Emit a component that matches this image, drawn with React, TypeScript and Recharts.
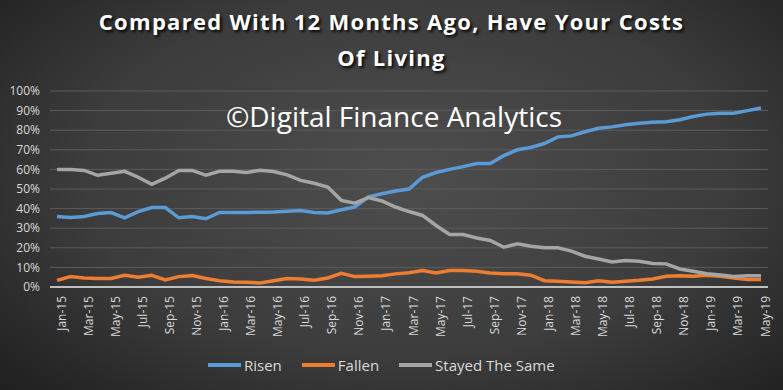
import { CartesianGrid, Line, LineChart, XAxis, YAxis } from "recharts";

const months = [
  "Jan-15", "Feb-15", "Mar-15", "Apr-15", "May-15", "Jun-15", "Jul-15", "Aug-15", "Sep-15", "Oct-15", "Nov-15", "Dec-15",
  "Jan-16", "Feb-16", "Mar-16", "Apr-16", "May-16", "Jun-16", "Jul-16", "Aug-16", "Sep-16", "Oct-16", "Nov-16", "Dec-16",
  "Jan-17", "Feb-17", "Mar-17", "Apr-17", "May-17", "Jun-17", "Jul-17", "Aug-17", "Sep-17", "Oct-17", "Nov-17", "Dec-17",
  "Jan-18", "Feb-18", "Mar-18", "Apr-18", "May-18", "Jun-18", "Jul-18", "Aug-18", "Sep-18", "Oct-18", "Nov-18", "Dec-18",
  "Jan-19", "Feb-19", "Mar-19", "Apr-19", "May-19"
];

const risen = [
  36, 35.5, 36, 37.5, 38, 35.3, 38.5, 40.5, 40.5, 35.3, 36, 34.8,
  38, 38, 38, 38.2, 38.3, 38.7, 39, 38, 37.8, 39.4, 40.8, 46,
  47.6, 49, 50, 56, 58.4, 60, 61.4, 63, 63, 67, 70, 71.2,
  73.2, 76.6, 77.1, 79.2, 81, 81.7, 82.8, 83.6, 84.1, 84.3, 85.3, 87,
  88.2, 88.7, 88.7, 90, 91.3
];

const fallen = [
  3.4, 5.3, 4.6, 4.3, 4.3, 6, 5, 6, 3.6, 5.3, 5.8, 4.3,
  3.2, 2.6, 2.4, 2, 3.2, 4.3, 4.1, 3.4, 4.6, 7, 5.3, 5.5,
  5.8, 6.7, 7.3, 8.4, 7.2, 8.4, 8.4, 8, 7.2, 6.8, 6.7, 6,
  3.2, 2.9, 2.6, 2.2, 3.2, 2.4, 2.9, 3.4, 4.1, 5.5, 5.8, 5.5,
  6, 5.5, 4.6, 3.8, 3.8
];

const stayedSame = [
  60, 60, 59.5, 57, 58, 59, 56, 52.4, 55.5, 59.5, 59.5, 57,
  59, 59, 58.4, 59.6, 58.9, 57.2, 54.4, 52.9, 51, 44.2, 42.8, 45.6,
  43.9, 40.8, 38.5, 36.5, 31.4, 26.8, 26.8, 25, 23.7, 20.3, 22, 20.8,
  20, 20, 18.3, 15.7, 14.3, 12.8, 13.5, 13.1, 12, 11.8, 9.2, 8,
  6.8, 6.1, 5.3, 5.8, 5.8
];

const yTicks = [0, 10, 20, 30, 40, 50, 60, 70, 80, 90, 100];

const data = months.map((month, i) => ({
  month,
  risen: risen[i],
  fallen: fallen[i],
  same: stayedSame[i]
}));

const series = [
  { key: "risen", name: "Risen", color: "#5b9bd5" },
  { key: "fallen", name: "Fallen", color: "#ed7d31" },
  { key: "same", name: "Stayed The Same", color: "#a5a5a5" }
];

const font = "'Open Sans', sans-serif";

export default function App() {
  return (
    <div
      style={{
        position: "absolute",
        left: 0,
        top: 0,
        width: 783,
        height: 390,
        overflow: "hidden",
        fontFamily: font,
        background:
          "radial-gradient(ellipse 75% 85% at 52% 45%, #4e4e4e 0%, #3c3c3c 55%, #262626 85%, #1c1c1c 100%)"
      }}
    >
      <div
        style={{
          position: "absolute",
          top: 3,
          left: 0,
          width: 783,
          textAlign: "center",
          color: "#ffffff",
          fontWeight: 700,
          fontSize: 22,
          letterSpacing: 1.3,
          lineHeight: "36px",
          textShadow: "2px 2px 3px rgba(0,0,0,0.9)"
        }}
      >
        Compared With 12 Months Ago, Have Your Costs
        <br />
        Of Living
      </div>

      <LineChart
        width={783}
        height={390}
        data={data}
        margin={{ top: 91, right: 15, bottom: 0, left: 10 }}
      >
        <CartesianGrid stroke="#5c5c5c" strokeWidth={1} vertical={false} />
        <XAxis
          dataKey="month"
          interval={1}
          height={103}
          padding={{ left: 7, right: 7 }}
          angle={-90}
          textAnchor="end"
          tickLine={false}
          tickMargin={7}
          axisLine={{ stroke: "#bfbfbf", strokeWidth: 2 }}
          tick={{ fill: "#d9d9d9", fontSize: 12, fontFamily: font, dy: -4 }}
        />
        <YAxis
          domain={[0, 100]}
          ticks={yTicks}
          interval={0}
          width={40}
          axisLine={false}
          tickLine={false}
          tickMargin={4}
          tickFormatter={(v) => `${v}%`}
          tick={{ fill: "#d9d9d9", fontSize: 12, fontFamily: font }}
        />
        {series.map((s) => (
          <Line
            key={s.key}
            type="linear"
            dataKey={s.key}
            name={s.name}
            stroke={s.color}
            strokeWidth={3.5}
            dot={false}
            isAnimationActive={false}
          />
        ))}
      </LineChart>

      <div
        style={{
          position: "absolute",
          left: 226,
          top: 97,
          color: "#ffffff",
          fontSize: 28,
          whiteSpace: "nowrap"
        }}
      >
        ©Digital Finance Analytics
      </div>

      <div
        style={{
          position: "absolute",
          top: 355,
          left: 208,
          display: "flex",
          alignItems: "center",
          color: "#d9d9d9",
          fontSize: 15
        }}
      >
        {series.map((s, i) => (
          <div
            key={s.key}
            style={{ display: "flex", alignItems: "center", marginLeft: i === 0 ? 0 : 20 }}
          >
            <span style={{ display: "inline-block", width: 33, height: 4, background: s.color, marginRight: 3 }} />
            <span>{s.name}</span>
          </div>
        ))}
      </div>
    </div>
  );
}
